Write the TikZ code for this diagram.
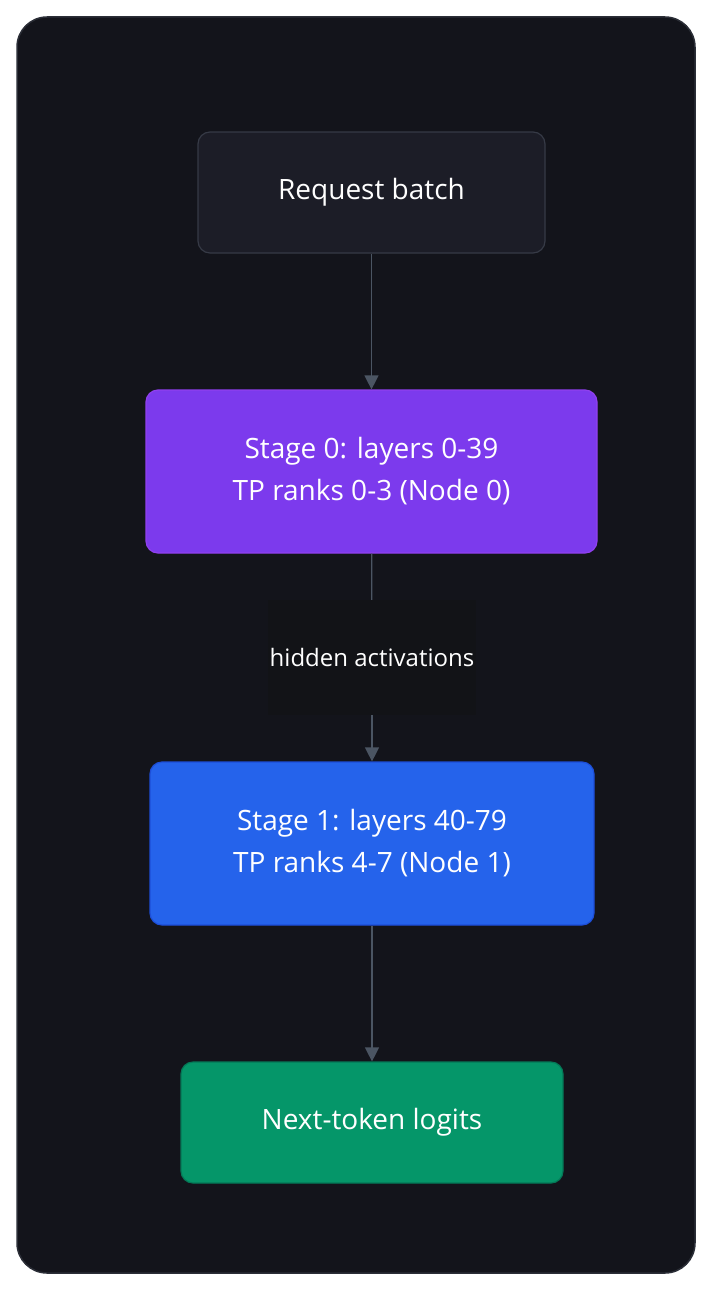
\documentclass[tikz,border=0pt]{standalone}
\usepackage{fontspec}
\setmainfont{Open Sans}
\usetikzlibrary{arrows.meta,positioning}
\definecolor{frameBg}{HTML}{13141B}
\definecolor{frameLine}{HTML}{2B2E37}
\definecolor{reqFill}{HTML}{1C1D27}
\definecolor{reqLine}{HTML}{363A46}
\definecolor{stageA}{HTML}{7C3AED}
\definecolor{stageALine}{HTML}{9040F0}
\definecolor{stageB}{HTML}{2563EB}
\definecolor{stageBLine}{HTML}{1D4ED8}
\definecolor{outFill}{HTML}{059669}
\definecolor{outLine}{HTML}{047857}
\definecolor{edgeGray}{HTML}{4B5563}
\definecolor{labFill}{HTML}{121317}
\tikzset{
  box/.style={rounded corners=12pt, draw, line width=1.2pt, text=white, align=center,
    font=\fontsize{28}{42}\selectfont, inner sep=0pt},
  flow/.style={draw=edgeGray, line width=1.2pt, -{Triangle[length=14pt,width=14pt]}},
}
\begin{document}
\begin{tikzpicture}[x=1pt,y=-1pt]
\useasboundingbox (0,0) rectangle (712,1290);
\fill[white] (0,0) rectangle (712,1290);
\draw[frameLine, fill=frameBg, line width=1.5pt, rounded corners=30pt] (17,17) rectangle (695,1273);

\node[box, fill=reqFill, draw=reqLine, minimum width=347pt, minimum height=121pt](req) at (371.5,192.5) {Request batch};
\node[box, fill=stageA, draw=stageALine, minimum width=451pt, minimum height=163pt](stage0) at (371.5,471.5) {Stage 0: layers 0-39\\TP ranks 0-3 (Node 0)};
\node[fill=labFill, text=white, font=\fontsize{24}{28}\selectfont, minimum width=208pt, minimum height=115pt, inner sep=0pt](hid) at (372,657.5) {hidden activations};
\node[box, fill=stageB, draw=stageBLine, minimum width=444pt, minimum height=163pt](stage1) at (372,843.5) {Stage 1: layers 40-79\\TP ranks 4-7 (Node 1)};
\node[box, fill=outFill, draw=outLine, minimum width=382pt, minimum height=121pt](logits) at (372,1122.5) {Next-token logits};

\draw[flow] (req) -- (stage0);
\draw[draw=edgeGray, line width=1.2pt] (stage0) -- (hid);
\draw[flow] (hid) -- (stage1);
\draw[flow] (stage1) -- (logits);
\end{tikzpicture}
\end{document}
